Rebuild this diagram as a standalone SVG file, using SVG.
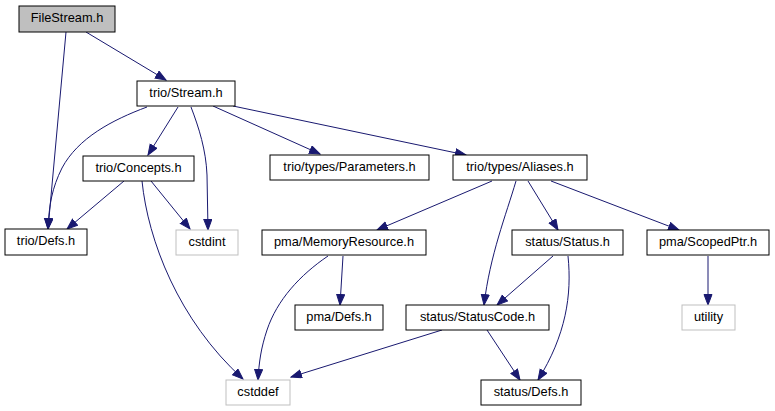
<svg xmlns="http://www.w3.org/2000/svg" width="775" height="411" viewBox="0 0 775 411">
<style>
.n rect{fill:#fff;stroke:#000;stroke-width:1}
.n.g rect{stroke:#bfbfbf}
.n.root rect{fill:#bfbfbf}
.n text{font-family:"Liberation Sans",Arial,sans-serif;font-size:12.8px;text-anchor:middle;fill:#000}
#edges path{fill:none;stroke:#191970;stroke-width:1;marker-end:url(#ah)}
</style>
<defs>
<marker id="ah" markerUnits="userSpaceOnUse" markerWidth="12" markerHeight="10" refX="11" refY="4.5" orient="auto">
<path d="M0.5,0.5 L11,4.5 L0.5,8.5 z" fill="#191970" stroke="#191970" stroke-width="1"/>
</marker>
</defs>
<rect x="0" y="0" width="775" height="411" fill="#fff"/>
<g id="edges">
<path d="M86,32 L166,80"/>
<path d="M66,32 L48,229"/>
<path d="M147,107 C112,120 78,138 62,168 C52,188 49,205 48,229"/>
<path d="M178,107 L148,155"/>
<path d="M191,107 C199,128 206,150 207,175 L208,230"/>
<path d="M213,106 L320,154"/>
<path d="M233,106 L466,155"/>
<path d="M124,181 L67,229"/>
<path d="M151,181 L190,229"/>
<path d="M142,181 C148,240 178,320 243,379"/>
<path d="M492,181 L377,230"/>
<path d="M516,181 C506,215 490,255 484,305"/>
<path d="M528,181 L558,230"/>
<path d="M551,181 L679,230"/>
<path d="M343,256 L340,305"/>
<path d="M328,256 C300,275 277,300 267,330 C261,348 259,362 258,380"/>
<path d="M553,256 L497,305"/>
<path d="M568,256 C572,295 566,335 538,380"/>
<path d="M442,330 L291,377"/>
<path d="M487,330 L520,380"/>
<path d="M708,256 L708,305"/>
</g>
<g id="FileStream" class="n root"><rect x="19" y="6" width="96" height="26"/><text x="67" y="22">FileStream.h</text></g>
<g id="Stream" class="n"><rect x="137" y="81" width="98" height="25"/><text x="186" y="97">trio/Stream.h</text></g>
<g id="Concepts" class="n"><rect x="83" y="156" width="111" height="25"/><text x="138.5" y="172">trio/Concepts.h</text></g>
<g id="Parameters" class="n"><rect x="270" y="155" width="159" height="25"/><text x="349.5" y="171">trio/types/Parameters.h</text></g>
<g id="Aliases" class="n"><rect x="453" y="155" width="134" height="25"/><text x="520" y="171">trio/types/Aliases.h</text></g>
<g id="TrioDefs" class="n"><rect x="5" y="229" width="82" height="26"/><text x="46" y="245">trio/Defs.h</text></g>
<g id="cstdint" class="n g"><rect x="176" y="230" width="62" height="25"/><text x="207" y="246">cstdint</text></g>
<g id="MemoryResource" class="n"><rect x="262" y="230" width="164" height="25"/><text x="344" y="246">pma/MemoryResource.h</text></g>
<g id="Status" class="n"><rect x="512" y="230" width="111" height="25"/><text x="567.5" y="246">status/Status.h</text></g>
<g id="ScopedPtr" class="n"><rect x="647" y="230" width="122" height="25"/><text x="708" y="246">pma/ScopedPtr.h</text></g>
<g id="PmaDefs" class="n"><rect x="295" y="305" width="88" height="25"/><text x="339" y="321">pma/Defs.h</text></g>
<g id="StatusCode" class="n"><rect x="406" y="305" width="143" height="25"/><text x="477.5" y="321">status/StatusCode.h</text></g>
<g id="utility" class="n g"><rect x="682" y="305" width="53" height="25"/><text x="708.5" y="321">utility</text></g>
<g id="cstddef" class="n g"><rect x="226" y="380" width="64" height="25"/><text x="258" y="396">cstddef</text></g>
<g id="StatusDefs" class="n"><rect x="481" y="380" width="100" height="25"/><text x="531" y="396">status/Defs.h</text></g>
</svg>
